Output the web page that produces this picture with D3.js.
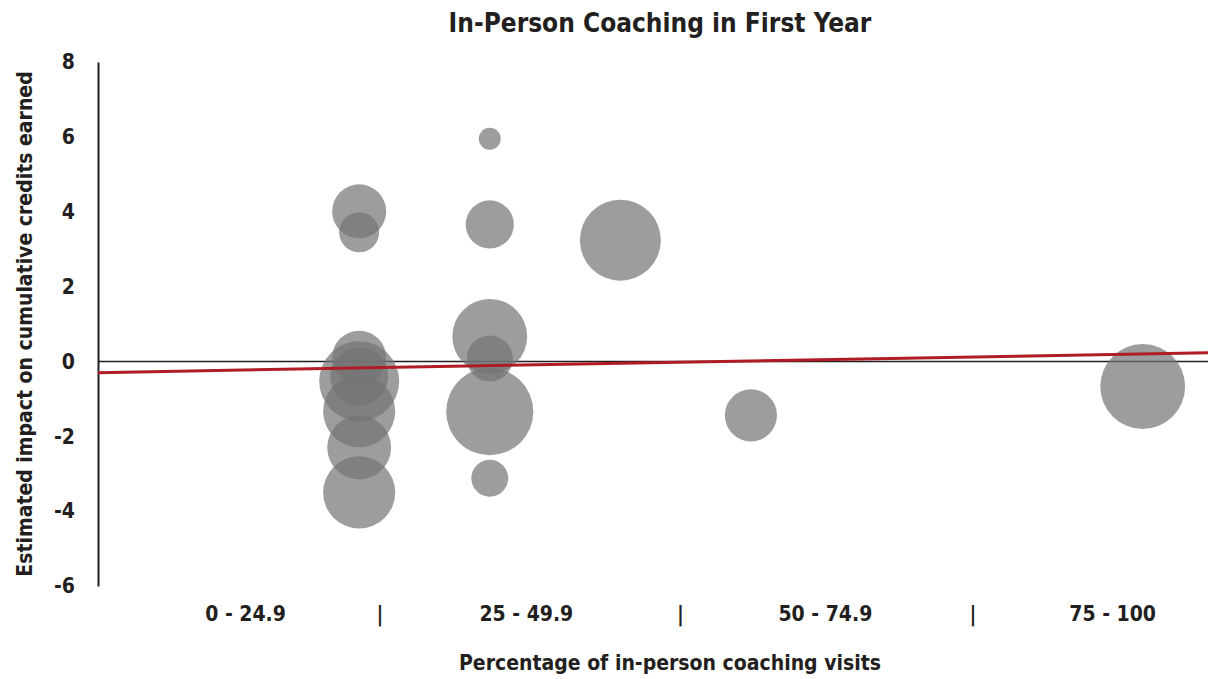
<!DOCTYPE html>
<html>
<head>
<meta charset="utf-8">
<title>In-Person Coaching in First Year</title>
<script src="https://cdn.jsdelivr.net/npm/d3@7"></script>
<style>
body { margin: 0; background: #fff; }
text { font-family: "DejaVu Sans Condensed", "DejaVu Sans", sans-serif; font-weight: bold; fill: #231f20; }
</style>
</head>
<body>
<script>
// bubble data: x position (group slot), estimated impact, bubble size
var bubbleX    = [2, 2, 2, 2, 2, 2, 2, 2, 3, 3, 3, 3, 3, 3, 4, 5, 8];
var bubbleY    = [4.01, 3.45, 0.10, -0.53, -0.40, -1.33, -2.30, -3.50, 5.95, 3.66, 0.67, 0.08, -1.34, -3.12, 3.24, -1.44, -0.67];
var bubbleSize = [7.3, 4.0, 7.3, 16, 8.4, 13, 10.2, 13, 1.2, 5.8, 14, 5.3, 19, 3.4, 16.4, 6.8, 18];

// trend line end points
var trendX = [0, 8.5];
var trendY = [-0.30, 0.23];

// axis labels
var yTicks = [8, 6, 4, 2, 0, -2, -4, -6];
var groupLabels = ["0 - 24.9", "25 - 49.9", "50 - 74.9", "75 - 100"];
var groupPos = [1.13, 3.28, 5.57, 7.77];
var sepPos = [2.16, 4.46, 6.70];

var width = 1212, height = 679;
var svg = d3.select("body").append("svg")
    .attr("width", width)
    .attr("height", height);

var x = d3.scaleLinear().domain([0, 8.5]).range([98, 1208]);
var y = d3.scaleLinear().domain([-6, 8]).range([586, 62]);
var r = d3.scaleSqrt().domain([0, 1]).range([0, 10]);

// title
svg.append("text")
    .attr("x", 660).attr("y", 32)
    .attr("text-anchor", "middle")
    .style("font-size", "26px")
    .text("In-Person Coaching in First Year");

// y axis
var axisY = d3.axisLeft(y).tickValues(yTicks).tickSize(0).tickPadding(23)
    .tickFormat(function(d){ return String(d); });
var gy = svg.append("g")
    .attr("transform", "translate(98,0)")
    .call(axisY);
gy.select(".domain").attr("stroke", "#231f20").attr("stroke-width", 2);
gy.selectAll("text").style("font-size", "21px").attr("fill", "#231f20");

// zero line
svg.append("line")
    .attr("x1", x(0)).attr("x2", x(8.5))
    .attr("y1", y(0)).attr("y2", y(0))
    .attr("stroke", "#231f20")
    .attr("stroke-width", 1.5);

// bubbles
var pts = bubbleX.map(function(d, i){ return {x: d, y: bubbleY[i], s: bubbleSize[i]}; });
svg.selectAll("circle")
    .data(pts)
    .enter()
    .append("circle")
    .attr("cx", function(d){ return x(d.x); })
    .attr("cy", function(d){ return y(d.y); })
    .attr("r", function(d){ return r(d.s); })
    .attr("fill", "#737476")
    .attr("fill-opacity", 0.7);

// trend line
svg.append("line")
    .attr("x1", x(trendX[0])).attr("x2", x(trendX[1]))
    .attr("y1", y(trendY[0])).attr("y2", y(trendY[1]))
    .attr("stroke", "#b01c24")
    .attr("stroke-width", 3);

// group labels under the plot
svg.selectAll(".glabel")
    .data(groupLabels)
    .enter()
    .append("text")
    .attr("class", "glabel")
    .attr("x", function(d, i){ return x(groupPos[i]); })
    .attr("y", 621)
    .attr("text-anchor", "middle")
    .style("font-size", "21px")
    .text(function(d){ return d; });

svg.selectAll(".sep")
    .data(sepPos)
    .enter()
    .append("text")
    .attr("class", "sep")
    .attr("x", function(d){ return x(d); })
    .attr("y", 621)
    .attr("text-anchor", "middle")
    .style("font-size", "21px")
    .text("|");

// axis titles
svg.append("text")
    .attr("x", 670).attr("y", 670)
    .attr("text-anchor", "middle")
    .style("font-size", "21px")
    .text("Percentage of in-person coaching visits");

svg.append("text")
    .attr("transform", "translate(32,324) rotate(-90)")
    .attr("text-anchor", "middle")
    .style("font-size", "21px")
    .text("Estimated impact on cumulative credits earned");
</script>
</body>
</html>
